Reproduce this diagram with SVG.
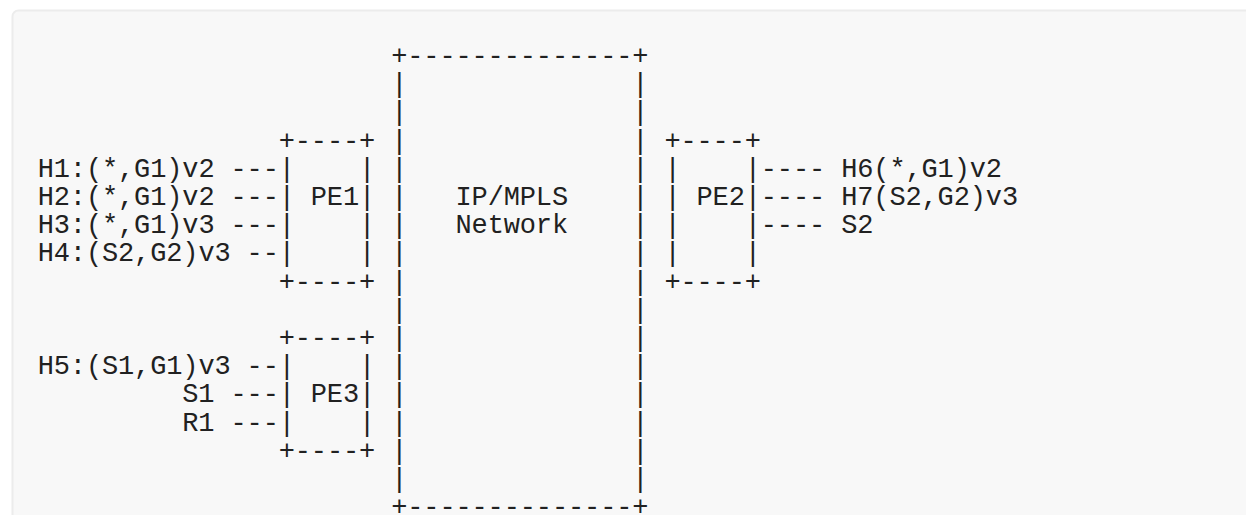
<svg xmlns="http://www.w3.org/2000/svg" width="1246" height="515" viewBox="0 0 1246 515">
<style>
.t{font-family:"Liberation Mono","DejaVu Sans Mono",monospace;font-size:27px;letter-spacing:-0.13px;fill:#212121}
</style>
<rect x="0" y="0" width="1246" height="515" fill="#ffffff"/>
<rect x="12.5" y="10.5" width="1240" height="600" rx="6" fill="#f8f8f8" stroke="#ececec" stroke-width="2"/>
<g id="network" class="t">
<text x="391.2" y="64">+--------------+</text>
<text x="391.2 632.2" y="92.2">||</text>
<text x="391.2 632.2" y="120.4">||</text>
<text x="391.2 632.2" y="148.6">||</text>
<text x="391.2 632.2" y="176.8">||</text>
<text x="391.2 632.2" y="205">||</text>
<text x="391.2 632.2" y="233.2">||</text>
<text x="391.2 632.2" y="261.4">||</text>
<text x="391.2 632.2" y="289.6">||</text>
<text x="391.2 632.2" y="317.8">||</text>
<text x="391.2 632.2" y="346">||</text>
<text x="391.2 632.2" y="374.2">||</text>
<text x="391.2 632.2" y="402.4">||</text>
<text x="391.2 632.2" y="430.6">||</text>
<text x="391.2 632.2" y="458.8">||</text>
<text x="391.2 632.2" y="487">||</text>
<text x="391.2" y="515.2">+--------------+</text>
<text x="455.5" y="205">IP/MPLS</text>
<text x="455.5" y="233.2">Network</text>
</g>
<g id="pe1" class="t">
<text x="278.7" y="148.6">+----+</text>
<text x="278.7 359.1" y="176.8">||</text>
<text x="278.7 359.1" y="205">||</text>
<text x="278.7 359.1" y="233.2">||</text>
<text x="278.7 359.1" y="261.4">||</text>
<text x="278.7" y="289.6">+----+</text>
<text x="310.8" y="205">PE1</text>
</g>
<g id="pe2" class="t">
<text x="664.4" y="148.6">+----+</text>
<text x="664.4 744.7" y="176.8">||</text>
<text x="664.4 744.7" y="205">||</text>
<text x="664.4 744.7" y="233.2">||</text>
<text x="664.4 744.7" y="261.4">||</text>
<text x="664.4" y="289.6">+----+</text>
<text x="696.5" y="205">PE2</text>
</g>
<g id="pe3" class="t">
<text x="278.7" y="346">+----+</text>
<text x="278.7 359.1" y="374.2">||</text>
<text x="278.7 359.1" y="402.4">||</text>
<text x="278.7 359.1" y="430.6">||</text>
<text x="278.7" y="458.8">+----+</text>
<text x="310.8" y="402.4">PE3</text>
</g>
<g id="h1" class="t"><text x="37.7" y="176.8">H1:(*,G1)v2</text></g>
<g id="h2" class="t"><text x="37.7" y="205">H2:(*,G1)v2</text></g>
<g id="h3" class="t"><text x="37.7" y="233.2">H3:(*,G1)v3</text></g>
<g id="h4" class="t"><text x="37.7" y="261.4">H4:(S2,G2)v3</text></g>
<g id="h5" class="t"><text x="37.7" y="374.2">H5:(S1,G1)v3</text></g>
<g id="s1" class="t"><text x="182.3" y="402.4">S1</text></g>
<g id="r1" class="t"><text x="182.3" y="430.6">R1</text></g>
<g id="h6" class="t"><text x="841.2" y="176.8">H6(*,G1)v2</text></g>
<g id="h7" class="t"><text x="841.2" y="205">H7(S2,G2)v3</text></g>
<g id="s2" class="t"><text x="841.2" y="233.2">S2</text></g>
<g id="connectors" class="t">
<text x="230.5" y="176.8">---</text>
<text x="230.5" y="205">---</text>
<text x="230.5" y="233.2">---</text>
<text x="246.6" y="261.4">--</text>
<text x="246.6" y="374.2">--</text>
<text x="230.5" y="402.4">---</text>
<text x="230.5" y="430.6">---</text>
<text x="760.8" y="176.8">----</text>
<text x="760.8" y="205">----</text>
<text x="760.8" y="233.2">----</text>
</g>
</svg>
